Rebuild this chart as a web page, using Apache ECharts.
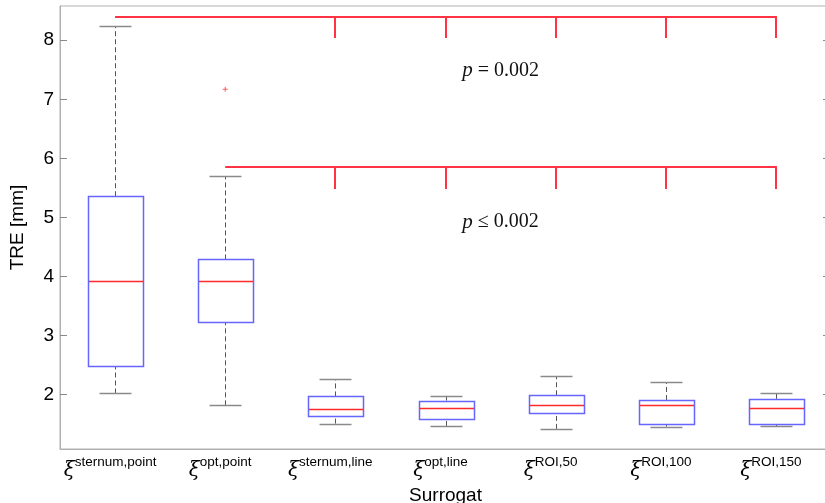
<!DOCTYPE html>
<html>
<head>
<meta charset="utf-8">
<script src="https://cdn.jsdelivr.net/npm/echarts@6/dist/echarts.min.js"></script>
<style>html,body{margin:0;padding:0;background:#fff}#c{width:825px;height:503px}</style>
</head>
<body>
<div id="c"></div>
<script>
const categories = ['sternum,point','opt,point','sternum,line','opt,line','ROI,50','ROI,100','ROI,150'];
const whiskerLow  = [2.02, 1.82, 1.51, 1.47, 1.42, 1.46, 1.47];
const q1          = [2.49, 3.23, 1.63, 1.59, 1.68, 1.51, 1.50];
const median      = [3.92, 3.93, 1.75, 1.77, 1.82, 1.82, 1.77];
const q3          = [5.36, 4.29, 1.97, 1.90, 1.99, 1.91, 1.93];
const whiskerHigh = [8.24, 5.70, 2.26, 1.98, 2.31, 2.21, 2.02];
const outlierCategory = [1];
const outlierValue = [7.17];
const yTicks = [2, 3, 4, 5, 6, 7, 8];
const bracketStart = [0, 1];
const bracketLevel = [8.39, 5.85];
const bracketDrop = [8.03, 5.49];
const bracketTargets = [2, 3, 4, 5, 6];
const pLabels = ['= 0.002', '≤ 0.002'];
const pLabelValue = [7.49, 4.92];
const pLabelBetween = [3, 4];

const chart = echarts.init(document.getElementById('c'), null, {renderer: 'canvas'});
const FONT = 'Liberation Sans';
const BOX = '#6666ff', MED = '#ff2a2a', WHISK = '#555555', CAP = '#8a8a8a', RED = '#ff3344';

const boxData = categories.map((c, i) => [i, whiskerLow[i], q1[i], median[i], q3[i], whiskerHigh[i]]);
const bracketData = bracketLevel.map((l, k) => [bracketStart[k], l, bracketDrop[k]]);
const labelData = pLabels.map((t, k) => [pLabelBetween[0], pLabelValue[k], k]);

const px = v => Math.round(v) + 0.5;

chart.setOption({
  animation: false,
  grid: {left: 60, top: 6, width: 771, height: 443, outerBoundsMode: 'none', containLabel: false,
         show: true, borderColor: '#b0b0b0', borderWidth: 1, backgroundColor: 'transparent'},
  xAxis: {
    type: 'category', data: categories, boundaryGap: true,
    axisLine: {show: true, lineStyle: {color: '#b0b0b0'}},
    axisTick: {show: false},
    axisLabel: {
      interval: 0, hideOverlap: false,
      margin: 6, color: '#000',
      formatter: v => '{x|ξ}{s|' + v + '}',
      rich: {
        x: {fontFamily: 'DejaVu Serif', fontStyle: 'italic', fontSize: 20, lineHeight: 26, verticalAlign: 'bottom', color: '#000'},
        s: {fontFamily: FONT, fontSize: 13.5, lineHeight: 26, verticalAlign: 'top', color: '#000', padding: [0, 10, 0, 0]}
      }
    },
    name: 'Surrogat', nameLocation: 'middle', nameGap: 35,
    nameTextStyle: {fontFamily: FONT, fontSize: 19, color: '#000'}
  },
  yAxis: [{
    type: 'value', min: 1.08, max: 8.58,
    axisLine: {show: true, lineStyle: {color: '#b0b0b0'}},
    axisTick: {show: true, inside: true, length: 7, customValues: yTicks, lineStyle: {color: '#888'}},
    axisLabel: {customValues: yTicks, fontFamily: FONT, fontSize: 19, color: '#000', margin: 6},
    splitLine: {show: false},
    name: 'TRE [mm]', nameLocation: 'middle', nameGap: 33, nameRotate: 90,
    nameTextStyle: {fontFamily: FONT, fontSize: 19, color: '#000'}
  }, {
    type: 'value', min: 1.08, max: 8.58, position: 'right',
    axisLine: {show: false},
    axisTick: {show: true, inside: true, length: 8, customValues: yTicks, lineStyle: {color: '#888'}},
    axisLabel: {show: false},
    splitLine: {show: false}
  }],
  series: [{
    type: 'custom', name: 'box',
    data: boxData,
    encode: {x: 0, y: [1, 2, 3, 4, 5]},
    renderItem: (params, api) => {
      const i = api.value(0);
      const band = api.size([1, 0])[0];
      const cx = px(api.coord([i, 0])[0]);
      const yLow = api.coord([i, api.value(1)])[1];
      const yQ1 = api.coord([i, api.value(2)])[1];
      const yMed = api.coord([i, api.value(3)])[1];
      const yQ3 = api.coord([i, api.value(4)])[1];
      const yHigh = api.coord([i, api.value(5)])[1];
      const bw = band * 0.5, cw = band * 0.29;
      const dash = {stroke: WHISK, lineWidth: 1, lineDash: [5, 3]};
      const cap = {stroke: CAP, lineWidth: 1.5};
      return {type: 'group', children: [
        {type: 'line', z2: 1, shape: {x1: cx, y1: yQ3, x2: cx, y2: yHigh}, style: dash},
        {type: 'line', z2: 1, shape: {x1: cx, y1: yLow, x2: cx, y2: yQ1}, style: dash},
        {type: 'line', z2: 1, shape: {x1: cx - cw / 2, y1: px(yHigh), x2: cx + cw / 2, y2: px(yHigh)}, style: cap},
        {type: 'line', z2: 1, shape: {x1: cx - cw / 2, y1: px(yLow), x2: cx + cw / 2, y2: px(yLow)}, style: cap},
        {type: 'rect', z2: 2, shape: {x: px(cx - bw / 2), y: px(yQ3), width: Math.round(bw), height: Math.round(yQ1 - yQ3)}, style: {fill: '#fff', stroke: BOX, lineWidth: 1.5}},
        {type: 'rect', z2: 5, shape: {x: Math.round(cx - bw / 2) + 1, y: Math.round(yMed) - 0.25, width: Math.round(bw) - 1, height: 1.5}, style: {fill: MED, stroke: null}}
      ]};
    },
    z: 3
  }, {
    type: 'scatter', name: 'outlier',
    data: outlierCategory.map((c, k) => [c, outlierValue[k]]),
    symbol: 'path://M4,0h2v4h4v2h-4v4h-2v-4h-4v-2h4z', symbolSize: 5,
    itemStyle: {color: '#ff3333'}, z: 4
  }, {
    type: 'custom', name: 'brackets',
    data: bracketData,
    encode: {x: 0, y: [1, 2]},
    renderItem: (params, api) => {
      const s = api.value(0), lvl = api.value(1), drop = api.value(2);
      const last = bracketTargets[bracketTargets.length - 1];
      const p0 = api.coord([s, lvl]), p1 = api.coord([last, lvl]);
      const st = {stroke: RED, lineWidth: 2};
      const children = [{type: 'line', shape: {x1: p0[0], y1: Math.round(p0[1]), x2: p1[0] + 1, y2: Math.round(p1[1])}, style: st}];
      bracketTargets.forEach(t => {
        const a = api.coord([t, lvl]), b = api.coord([t, drop]);
        children.push({type: 'line', shape: {x1: Math.round(a[0]), y1: Math.round(a[1]), x2: Math.round(b[0]), y2: Math.round(b[1])}, style: st});
      });
      return {type: 'group', children};
    },
    z: 5
  }, {
    type: 'custom', name: 'pvalues',
    data: labelData,
    encode: {x: 0, y: 1},
    renderItem: (params, api) => {
      const a = api.coord([pLabelBetween[0], api.value(1)]);
      const b = api.coord([pLabelBetween[1], api.value(1)]);
      const k = api.value(2);
      return {type: 'text', x: (a[0] + b[0]) / 2, y: a[1], style: {
        text: '{i|p} ' + pLabels[k],
        align: 'center', verticalAlign: 'middle',
        font: '20px "Liberation Serif"', fill: '#111',
        rich: {i: {fontFamily: 'Liberation Serif', fontStyle: 'italic', fontSize: 21, fill: '#111'}}
      }};
    },
    z: 5
  }]
});
</script>
</body>
</html>
